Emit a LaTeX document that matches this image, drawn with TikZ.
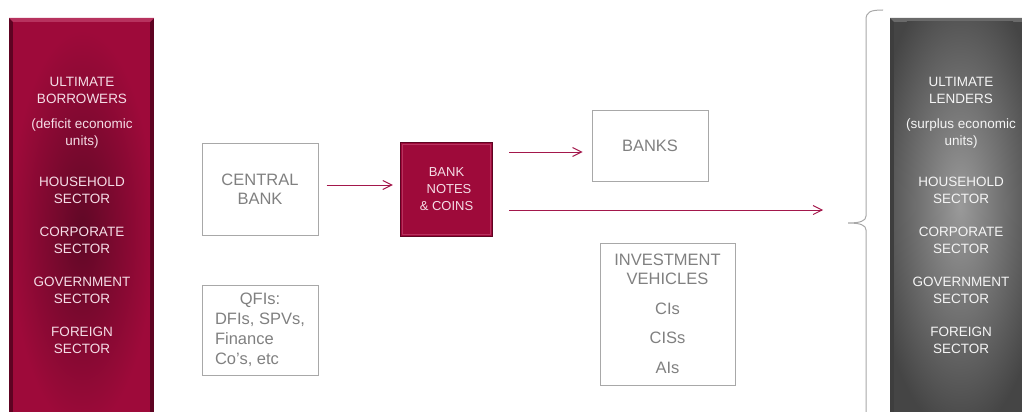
\documentclass[tikz,border=0pt]{standalone}
\usepackage{fontspec}
\setmainfont{Liberation Sans}
\usetikzlibrary{arrows.meta}
\definecolor{crimson}{HTML}{9E0A3A}
\definecolor{crimdark}{HTML}{5E0322}
\definecolor{crimtop}{HTML}{B7325E}
\definecolor{crimshade}{HTML}{600826}
\definecolor{pinktext}{HTML}{F5DDE6}
\definecolor{paneldark}{HTML}{3E3E3E}
\definecolor{panelmid}{HTML}{454545}
\definecolor{panellight}{HTML}{9A9A9A}
\definecolor{paneltop}{HTML}{6A6A6A}
\definecolor{boxgray}{HTML}{A8A8A8}
\definecolor{txtgray}{HTML}{808080}
\definecolor{arrowred}{HTML}{A3174B}
\begin{document}
\begin{tikzpicture}[x=1pt,y=-1pt,
    graybox/.style={draw=boxgray,line width=1pt,text=txtgray,align=center,inner sep=0pt},
    flow/.style={draw=arrowred,line width=0.9pt,-{Straight Barb[length=9pt,width=9pt]}},
    paneltext/.style={anchor=north,align=center,inner sep=0pt,font=\fontsize{13.5}{16.5}\selectfont}]
    \useasboundingbox (0,0) rectangle (1022,412);
    % left panel: ultimate borrowers
    \fill[crimdark] (9,18) rectangle (154,412);
    \fill[crimtop] (9,18) -- (154,18) -- (150,22) -- (13,22) -- cycle;
    \fill[crimson] (13,22) rectangle (150,412);
    \begin{scope}
    \clip (13,22) rectangle (150,412);
    \shade[inner color=crimshade,outer color=crimson] (82,230) ellipse (72 and 200);
    \end{scope}
    \node[paneltext,text=pinktext] (borrowers) at (82,77.5) {ULTIMATE\\BORROWERS\\[9pt](deficit economic\\units)\\[25pt]HOUSEHOLD\\SECTOR\\[17pt]CORPORATE\\SECTOR\\[17pt]GOVERNMENT\\SECTOR\\[17pt]FOREIGN\\SECTOR};
    % right panel: ultimate lenders
    \fill[paneldark] (890,18) rectangle (1022,412);
    \fill[paneltop] (890,18) -- (1022,18) -- (1022,22) -- (894,22) -- cycle;
    \fill[panelmid] (894,22) rectangle (1022,412);
    \begin{scope}
    \clip (894,22) rectangle (1022,412);
    \shade[inner color=panellight,outer color=panelmid] (960,205) ellipse (88 and 230);
    \end{scope}
    \node[paneltext,text=white!92!gray] (lenders) at (961,77.5) {ULTIMATE\\LENDERS\\[9pt](surplus economic\\units)\\[25pt]HOUSEHOLD\\SECTOR\\[17pt]CORPORATE\\SECTOR\\[17pt]GOVERNMENT\\SECTOR\\[17pt]FOREIGN\\SECTOR};
    % brace
    \draw[boxgray,line width=1pt] (883,10) .. controls (870,10) and (866,12) .. (866,20) -- (866,216)
        .. controls (866,221) and (860,223) .. (848,223) .. controls (860,223) and (866,225) .. (866,230) -- (866,412);
    % boxes
    \node[graybox,minimum width=116pt,minimum height=92pt,font=\fontsize{16.5}{19}\selectfont] (cbank) at (260,189) {CENTRAL\\BANK};
    \node[graybox,minimum width=116pt,minimum height=90pt,font=\fontsize{16.5}{20}\selectfont] (qfi) at (260,330)
        {\begin{tabular}{@{}l@{}}\multicolumn{1}{@{}c@{}}{QFIs:}\\DFIs, SPVs,\\Finance\\Co’s, etc\end{tabular}};
    \node[fill=crimson,draw=crimdark,line width=1.5pt,minimum width=92pt,minimum height=94pt,inner sep=0pt,
        text=pinktext,align=center,font=\fontsize{13}{17}\selectfont] (notes) at (446.5,189.5) {BANK\\\hspace*{5pt}NOTES\\\& COINS};
    \draw[crimtop,line width=0.8pt] ([shift={(3pt,-3pt)}]notes.north west) rectangle ([shift={(-3pt,3pt)}]notes.south east);
    \node[graybox,minimum width=116pt,minimum height=71pt,font=\fontsize{16.5}{19}\selectfont] (banks) at (650,145.5) {BANKS};
    \node[graybox,minimum width=135pt,minimum height=142pt,font=\fontsize{16.5}{19}\selectfont] (invest) at (667.5,314)
        {INVESTMENT\\VEHICLES\\[11pt]CIs\\[10pt]CISs\\[11pt]AIs};
    % arrows
    \coordinate (tolenders) at (823,210);
    \draw[flow] ([xshift=8pt,yshift=4pt]cbank.east) -- ([xshift=-7pt,yshift=4.5pt]notes.west);
    \draw[flow] ([xshift=16pt,yshift=37.5pt]notes.east) -- ([xshift=-9pt,yshift=-6.5pt]banks.west);
    \draw[flow] ([xshift=16pt,yshift=-20.5pt]notes.east) -- (tolenders);
\end{tikzpicture}
\end{document}
